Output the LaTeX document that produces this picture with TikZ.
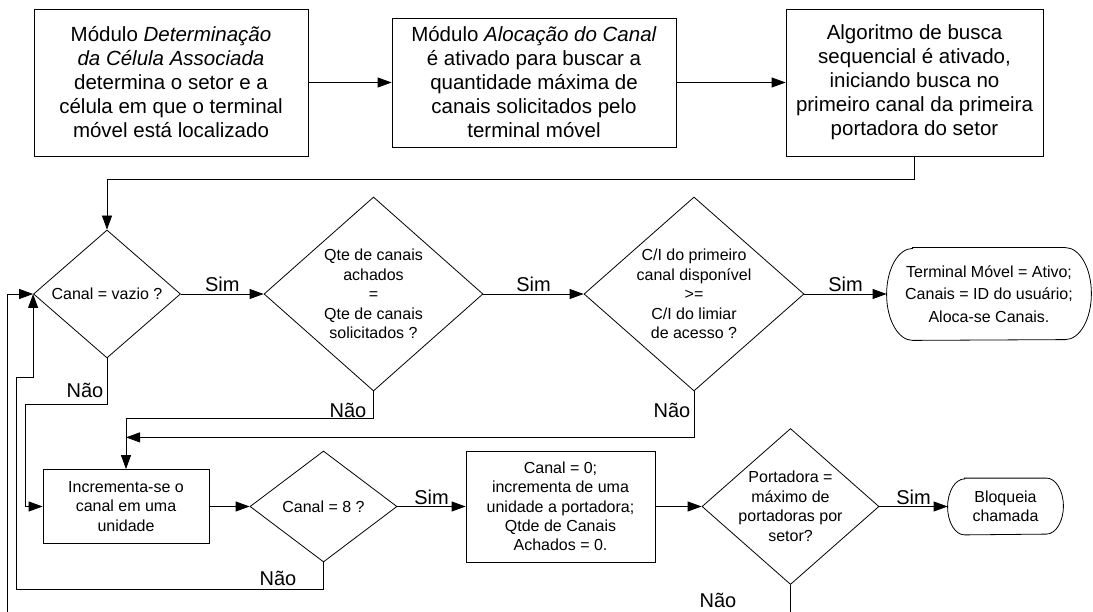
\documentclass[tikz,border=0pt]{standalone}
\usepackage{fontspec}
\setmainfont{Liberation Sans}
\usetikzlibrary{arrows.meta,shapes.geometric,calc}
\newcommand\stadiumshape[3]{\draw ($(#1.north west)+(#2,0)$) -- ($(#1.north east)+(-#2,0)$)
  arc[start angle=90,end angle=-90,x radius=#2pt,y radius=#3pt]
  -- ($(#1.south west)+(#2,0)$)
  arc[start angle=270,end angle=90,x radius=#2pt,y radius=#3pt] -- cycle;}
\begin{document}
\begin{tikzpicture}[x=1pt,y=-1pt,line width=0.8pt,
  arr/.style={-{Triangle[length=14pt,width=10pt]}},
  bigbox/.style={draw,rectangle,align=center,font=\fontsize{20.5}{24}\selectfont,inner sep=0pt},
  box/.style={draw,rectangle,align=center,font=\fontsize{16}{19.3}\selectfont,inner sep=0pt},
  dia/.style={draw,diamond,inner sep=0pt},
  dtxt/.style={align=center,font=\fontsize{16}{19.5}\selectfont,inner sep=0pt},
  term/.style={rectangle,align=center,font=\fontsize{16}{19.3}\selectfont,inner sep=0pt},
  lbl/.style={font=\fontsize{20}{24}\selectfont,inner sep=1.5pt}]
\fill[white] (0,0) rectangle (1093,612);
\useasboundingbox (0,0) rectangle (1093,612);

% top row
\node[bigbox,minimum width=274pt,minimum height=147pt] (b1) at (171,82.5)
  {Módulo \textit{Determinação}\\\textit{da Célula Associada}\\determina o setor e a\\célula em que o terminal\\móvel está localizado};
\node[bigbox,minimum width=284pt,minimum height=129pt] (b2) at (534,82.5)
  {Módulo \textit{Alocação do Canal}\\é ativado para buscar a\\quantidade máxima de\\canais solicitados pelo\\terminal móvel};
\node[bigbox,minimum width=257pt,minimum height=147pt] (b3) at (914.5,82.5)
  {Algoritmo de busca\\sequencial é ativado,\\iniciando busca no\\primeiro canal da primeira\\portadora do setor};

% decision row
\node[dia,minimum width=147pt,minimum height=128pt] (d1) at (107,294) {};
\node[dtxt] (d1t) at (d1) {Canal = vazio ?};
\node[dia,minimum width=219pt,minimum height=194pt] (d2) at (373.5,294) {};
\node[dtxt] (d2t) at (d2) {Qte de canais\\achados\\=\\Qte de canais\\solicitados ?};
\node[dia,minimum width=220pt,minimum height=194pt] (d3) at (694,294) {};
\node[dtxt] (d3t) at (d3) {C/I do primeiro\\canal disponível\\>=\\C/I do limiar\\de acesso ?};
\node[term,minimum width=204pt,minimum height=92pt,font=\fontsize{16}{22.5}\selectfont] (t1) at (989,294)
  {Terminal Móvel = Ativo;\\Canais = ID do usuário;\\Aloca-se Canais.};
\stadiumshape{t1}{26}{46}

% bottom row
\node[box,minimum width=166pt,minimum height=74pt] (inc) at (126,506.5)
  {Incrementa-se o\\canal em uma\\unidade};
\node[dia,minimum width=147pt,minimum height=111pt] (d4) at (323.5,506.5) {};
\node[dtxt] (d4t) at (d4) {Canal = 8 ?};
\node[box,minimum width=189pt,minimum height=111pt] (b4) at (560.5,506.5)
  {Canal = 0;\\incrementa de uma\\unidade a portadora;\\Qtde de Canais\\Achados = 0.};
\node[dia,minimum width=177pt,minimum height=156pt] (d5) at (790.5,506.5) {};
\node[dtxt] (d5t) at (d5) {Portadora =\\máximo de\\portadoras por\\setor?};
\node[term,minimum width=115pt,minimum height=56pt] (t2) at (1005.5,506.5)
  {Bloqueia\\chamada};
\stadiumshape{t2}{17}{28}

% free ends
\coordinate (lb) at (7,612);
\coordinate (rb) at (790.5,612);

% connectors
\draw[arr] (b1.east) -- (b2.west);
\draw[arr] (b2.east) -- (b3.west);
\draw[arr] (b3.south) -- ++(0,23) -| (d1.north);
\draw[arr] (d1.east) -- node[lbl,midway,above] (s1) {Sim} (d2.west);
\draw[arr] (d2.east) -- node[lbl,midway,above] (s2) {Sim} (d3.west);
\draw[arr] (d3.east) -- node[lbl,midway,above] (s3) {Sim} (t1.west);
\draw[arr] (d1.south) -- ++(0,46) -| (25,506.5) -- (inc.west);
\draw[arr] (d2.south) -- ++(0,27) -| (inc.north);
\draw[arr] (d3.south) -- ++(0,46) coordinate (c3) -- (c3 -| inc.north);
\draw[arr] (inc.east) -- (d4.west);
\draw[arr] (d4.east) -- node[lbl,midway,above] (s4) {Sim} (b4.west);
\draw[arr] (b4.east) -- (d5.west);
\draw[arr] (d5.east) -- node[lbl,midway,above] (s5) {Sim} (t2.west);
\draw[arr] (d4.south) -- ++(0,27) -| (16,377) -| (d1.west);
\draw[arr] (lb) |- (d1.west);
\draw (d5.south) -- (rb);

% Não labels
\node[lbl] (n1) at (85,390) {Não};
\node[lbl] (n2) at (348,410) {Não};
\node[lbl] (n3) at (672,410) {Não};
\node[lbl] (n4) at (278,578) {Não};
\node[lbl] (n5) at (718,600) {Não};
\end{tikzpicture}
\end{document}
